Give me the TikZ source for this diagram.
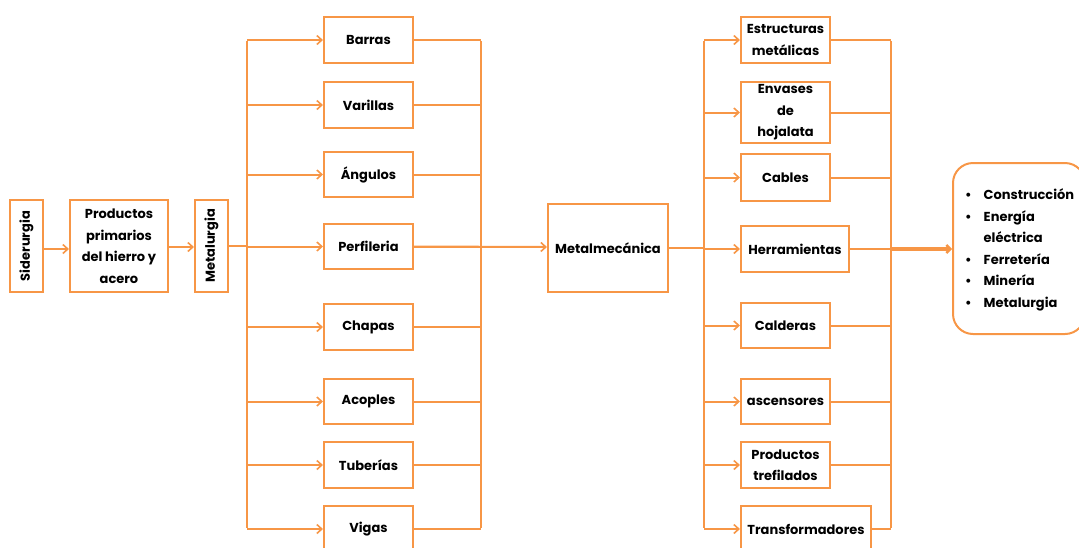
\documentclass[tikz,border=0pt]{standalone}
\usepackage{fontspec}
\setmainfont{Poppins}
\usetikzlibrary{arrows.meta}
\definecolor{orng}{RGB}{247,150,70}
\tikzset{
  box/.style={draw=orng, line width=2pt, inner sep=0pt, align=center,
    font=\bfseries\fontsize{13}{21.5}\selectfont},
  link/.style={draw=orng, line width=2pt},
  arr/.style={link, -{Straight Barb[length=5pt,width=9pt,line width=1.6pt]}},
  bigarr/.style={draw=orng, line width=3.4pt, -{Straight Barb[length=4pt,width=8pt,line width=2.4pt]}}
}
\begin{document}
\begin{tikzpicture}[x=1pt,y=-1pt]
\useasboundingbox (0,0) rectangle (1079,547);

% primary chain
\node[box, minimum width=33, minimum height=92] (sid) at (26.5,246) {\rotatebox{90}{Siderurgia}};
\node[box, minimum width=98, minimum height=92] (prod) at (119,246) {Productos\\primarios\\del hierro y\\acero};
\node[box, minimum width=33, minimum height=92] (met) at (211.5,246) {\rotatebox{90}{Metalurgia}};

% metallurgy products
\node[box, minimum width=89, minimum height=46] (barras) at (368.5,40) {Barras};
\node[box, minimum width=89, minimum height=46] (varillas) at (368.5,105) {Varillas};
\node[box, minimum width=89, minimum height=45] (angulos) at (368.5,174.5) {Ángulos};
\node[box, minimum width=89, minimum height=45] (perf) at (368.5,246.5) {Perfileria};
\node[box, minimum width=89, minimum height=46] (chapas) at (368.5,327) {Chapas};
\node[box, minimum width=89, minimum height=45] (acoples) at (368.5,401.5) {Acoples};
\node[box, minimum width=89, minimum height=46] (tuberias) at (368.5,465) {Tuberías};
\node[box, minimum width=89, minimum height=46] (vigas) at (368.5,529) {Vigas};

\node[box, minimum width=120, minimum height=88] (mm) at (608,248) {Metalmecánica};

% metal-mechanical products
\node[box, minimum width=89, minimum height=46] (estr) at (785.5,40) {Estructuras\\metálicas};
\node[box, minimum width=89, minimum height=61] (env) at (785.5,112.5) {Envases\\de\\hojalata};
\node[box, minimum width=89, minimum height=47] (cables) at (785.5,177.5) {Cables};
\node[box, minimum width=108, minimum height=46] (herr) at (795,249) {Herramientas};
\node[box, minimum width=89, minimum height=45] (cald) at (785.5,325.5) {Calderas};
\node[box, minimum width=89, minimum height=45] (asc) at (785.5,401.5) {ascensores};
\node[box, minimum width=89, minimum height=46] (tref) at (785.5,465) {Productos\\trefilados};
\node[box, minimum width=130, minimum height=46] (transf) at (806,529) {Transformadores};

% sectors
\node[draw=orng, line width=2pt, rounded corners=20pt, minimum width=132, minimum height=171] (sect) at (1019,248.5) {};
\node[anchor=west, inner sep=0pt, font=\bfseries\fontsize{13}{21.5}\selectfont] (list) at (965,249)
  {\renewcommand\arraystretch{1}\begin{tabular}{@{}l@{\hspace{12pt}}l@{}}
   \textbullet & Construcción\\
   \textbullet & Energía\\
               & eléctrica\\
   \textbullet & Ferretería\\
   \textbullet & Minería\\
   \textbullet & Metalurgia
  \end{tabular}};

% buses
\coordinate (lbT) at (247,41);  \coordinate (lbB) at (247,528);
\coordinate (rbT) at (481,41);  \coordinate (rbB) at (481,528);
\coordinate (lcT) at (704,41);  \coordinate (lcB) at (704,528);
\coordinate (rcT) at (891,41);  \coordinate (rcB) at (891,528);
\draw[link] (lbT) -- (lbB);
\draw[link] (rbT) -- (rbB);
\draw[link] (lcT) -- (lcB);
\draw[link] (rcT) -- (rcB);

% chain arrows
\draw[arr] ([yshift=-3pt]sid.east) -- ([yshift=-3pt]prod.west);
\draw[arr] ([yshift=-1pt]prod.east) -- ([yshift=-1pt]met.west);
\draw[link] (met.east) -- (lbT |- met.east);

\foreach \n in {barras,varillas,angulos,perf,chapas,acoples,tuberias,vigas}{
  \draw[arr] (lbT |- \n.west) -- (\n.west);
  \draw[link] (\n.east) -- (rbT |- \n.east);
}
\draw[arr] (perf.east) -- ([yshift=1pt]mm.west);

\draw[link] (mm.east) -- (lcT |- mm.east);
\foreach \n in {estr,env,cables,herr,cald,asc,tref,transf}{
  \draw[arr] (lcT |- \n.west) -- (\n.west);
  \draw[link] (\n.east) -- (rcT |- \n.east);
}
\draw[bigarr] (rcT |- herr.east) -- (sect.west |- herr.east);
\end{tikzpicture}
\end{document}
